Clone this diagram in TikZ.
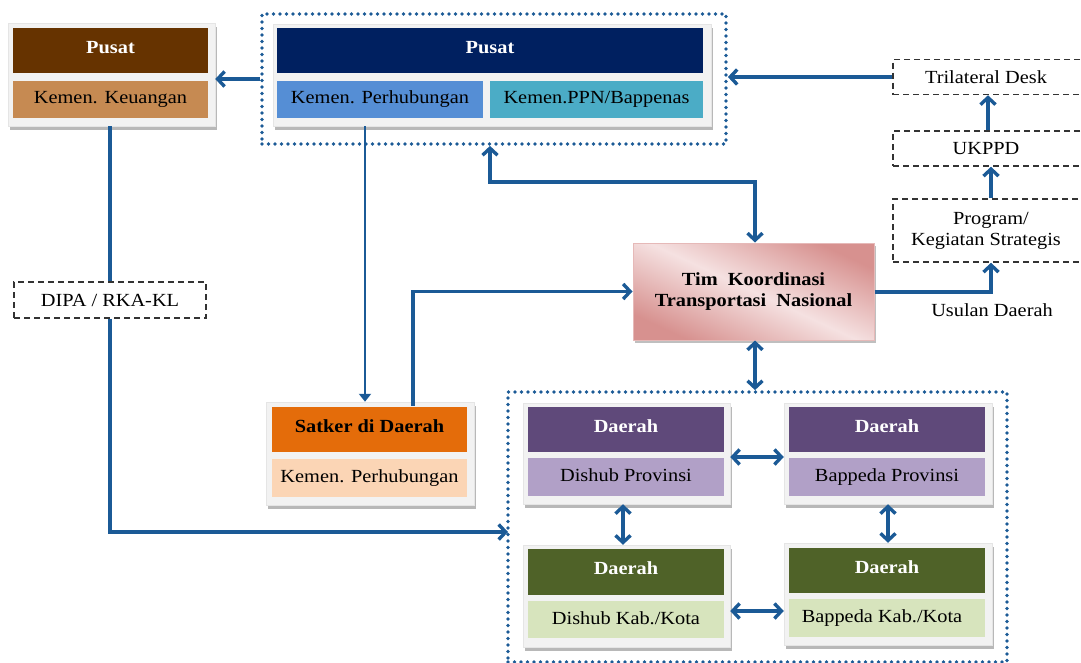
\documentclass[tikz,border=0pt]{standalone}
\usepackage{fontspec}
\setmainfont{Liberation Serif}[FakeStretch=1.1]
\usetikzlibrary{arrows.meta,shadows}
\definecolor{brownH}{RGB}{102,51,0}
\definecolor{brownL}{RGB}{198,138,82}
\definecolor{navyH}{RGB}{0,32,96}
\definecolor{blueL}{RGB}{85,142,213}
\definecolor{tealL}{RGB}{75,172,198}
\definecolor{orangeH}{RGB}{228,108,10}
\definecolor{peachL}{RGB}{251,213,181}
\definecolor{purpleH}{RGB}{95,73,122}
\definecolor{lilacL}{RGB}{177,160,199}
\definecolor{greenH}{RGB}{79,98,40}
\definecolor{greenL}{RGB}{215,228,189}
\definecolor{lineB}{RGB}{27,90,150}
\definecolor{pinkD}{RGB}{215,145,143}
\definecolor{pinkL}{RGB}{245,225,225}
\definecolor{pinkB}{RGB}{230,185,184}
\definecolor{frameF}{RGB}{242,242,242}
\tikzset{
  txt/.style={font=\fontsize{18.5}{21}\selectfont, inner sep=0pt},
  frame/.style={fill=frameF, draw=black!10, line width=0.5pt,
    general shadow={fill=black!28, shadow xshift=2pt, shadow yshift=-4pt}, inner sep=0pt},
  hdr/.style={txt, font=\fontsize{18.5}{21}\selectfont\bfseries, text=white, minimum height=45pt},
  low/.style={txt, text=black, minimum height=37pt},
  dbox/.style={txt, draw=black!80, line width=1.5pt, dash pattern=on 6pt off 4pt, align=center},
  grp/.style={draw=lineB, line width=3.8pt, line cap=round, dash pattern=on 0pt off 6.5pt, inner sep=0pt},
  conn/.style={draw=lineB, line width=3.4pt, -{Straight Barb[length=7pt,width=15pt]}},
  connB/.style={draw=lineB, line width=3.4pt, {Straight Barb[length=7pt,width=15pt]}-{Straight Barb[length=7pt,width=15pt]}},
  connP/.style={draw=lineB, line width=3.4pt},
  connT/.style={draw=lineB, line width=2.6pt, -{Triangle[length=8pt,width=12pt]}},
}
\begin{document}
\begin{tikzpicture}[x=1pt,y=-1pt]
\useasboundingbox (0,0) rectangle (1081,662);
\clip (0,0) rectangle (1081,662);
% groups
\node[grp, minimum width=464pt, minimum height=130pt] (gtop) at (494,79) {};
\node[grp, minimum width=499pt, minimum height=270pt] (gbot) at (757.5,527) {};

% left Pusat card
\node[frame, minimum width=207pt, minimum height=103pt] (fL) at (111.5,74.5) {};
\node[hdr, fill=brownH, minimum width=195pt] (pusatL) at (110.5,50.5) {\raisebox{7pt}{Pusat}};
\node[low, fill=brownL, minimum width=195pt] (keu) at (110.5,99.5) {\raisebox{3pt}{Kemen. Keuangan}};

% top Pusat card
\node[frame, minimum width=438pt, minimum height=102pt] (fT) at (492,75) {};
\node[hdr, fill=navyH, minimum width=426pt] (pusatT) at (490,50.5) {\raisebox{7pt}{Pusat}};
\node[low, fill=blueL, minimum width=206pt] (kperh) at (380,99.5) {\raisebox{3pt}{Kemen. Perhubungan}};
\node[low, fill=tealL, minimum width=213pt] (ppn) at (596.5,99.5) {\raisebox{3pt}{Kemen.PPN/Bappenas}};

% DIPA
\node[dbox, minimum width=192pt, minimum height=36pt] (dipa) at (110,300) {DIPA / RKA-KL};

% Satker card
\node[frame, minimum width=208pt, minimum height=103pt] (satF) at (370,453.5) {};
\node[hdr, fill=orangeH, text=black, minimum width=195pt] (sat) at (369.5,429.5) {\raisebox{7pt}{Satker di Daerah}};
\node[low, fill=peachL, minimum width=195pt, minimum height=38pt] (satL) at (369.5,478) {\raisebox{3pt}{Kemen. Perhubungan}};

% Tim
\node[txt, font=\fontsize{18.5}{21}\selectfont\bfseries, align=center, draw=pinkB, line width=1pt,
  left color=pinkD, right color=pinkD, middle color=pinkL, shading angle=-25,
  general shadow={fill=black!25, shadow xshift=2pt, shadow yshift=-3pt},
  minimum width=241pt, minimum height=97pt] (tim) at (753.5,291.5) {Tim\ \ Koordinasi\\Transportasi\ \ Nasional};

% right dashed boxes
\node[dbox, minimum width=196pt, minimum height=35pt] (tri) at (991,77) {\hspace*{-10pt}Trilateral Desk};
\node[dbox, minimum width=196pt, minimum height=35pt] (ukppd) at (991,148.5) {\hspace*{-10pt}UKPPD};
\node[dbox, minimum width=196pt, minimum height=63pt] (prog) at (991,230.5) {Program/\\Kegiatan Strategis\hspace*{10pt}};
\node[txt] (usulan) at (992,310) {Usulan Daerah};

% bottom cards
\node[frame, minimum width=207pt, minimum height=101pt] (dpF) at (626.5,453.5) {};
\node[hdr, fill=purpleH, minimum width=196pt] (dpH) at (626,429.5) {\raisebox{7pt}{Daerah}};
\node[low, fill=lilacL, minimum width=196pt, minimum height=38pt] (dpL) at (626,477) {\raisebox{3pt}{Dishub Provinsi}};

\node[frame, minimum width=208pt, minimum height=101pt] (bpF) at (888,453.5) {};
\node[hdr, fill=purpleH, minimum width=196pt] (bpH) at (887,429.5) {\raisebox{7pt}{Daerah}};
\node[low, fill=lilacL, minimum width=196pt, minimum height=38pt] (bpL) at (887,477) {\raisebox{3pt}{Bappeda Provinsi}};

\node[frame, minimum width=207pt, minimum height=102pt] (dkF) at (626.5,596) {};
\node[hdr, fill=greenH, minimum width=196pt, minimum height=46pt] (dkH) at (626,572) {\raisebox{7pt}{Daerah}};
\node[low, fill=greenL, minimum width=196pt] (dkL) at (626,619.5) {\raisebox{3pt}{Dishub Kab./Kota}};

\node[frame, minimum width=208pt, minimum height=102pt] (bkF) at (888,594) {};
\node[hdr, fill=greenH, minimum width=196pt] (bkH) at (887,570.5) {\raisebox{7pt}{Daerah}};
\node[low, fill=greenL, minimum width=196pt, minimum height=38pt] (bkL) at (887,618) {\raisebox{3pt}{\hspace*{-10pt}Bappeda Kab./Kota}};

% connectors
\draw[conn] (gtop.west) -- (gtop.west -| fL.east);
\draw[connP] (dipa.north |- fL.south) -- (dipa.north);
\coordinate (dipaIn) at (508,532);
\draw[conn] (dipa.south) |- (dipaIn);
\draw[connT] ([xshift=-5pt]satF.north |- fT.south) -- ([xshift=-5pt]satF.north);
\draw[conn] ([xshift=43pt,yshift=-4pt]satF.north) |- (tim.west);
\coordinate (bend) at (490,182);
\draw[connB] ([xshift=-4pt]gtop.south) -- (bend) -| ([xshift=1.5pt]tim.north);
\draw[connB] ([xshift=1.5pt]tim.south) -- ([xshift=1.5pt]tim.south |- gbot.north);
\draw[conn] (tri.west) -- (tri.west -| gtop.east);
\draw[conn] ([xshift=-3pt]ukppd.north |- ukppd.north) -- ([xshift=-3pt]tri.south);
\draw[conn] (prog.north) -- (ukppd.south);
\draw[conn] (tim.east |- 0,292) -| (prog.south);
\draw[connB] ([yshift=-3.5pt]dpF.east) -- ([yshift=-3.5pt]dpF.east -| bpF.west);
\draw[connB] ([yshift=-15pt]dkF.east) -- ([yshift=-15pt]dkF.east -| bkF.west);
\draw[connB] ([xshift=-3.5pt]dpF.south) -- ([xshift=-3.5pt]dpF.south |- dkF.north);
\draw[connB] (bpF.south) -- (bpF.south |- bkF.north);
\end{tikzpicture}
\end{document}
